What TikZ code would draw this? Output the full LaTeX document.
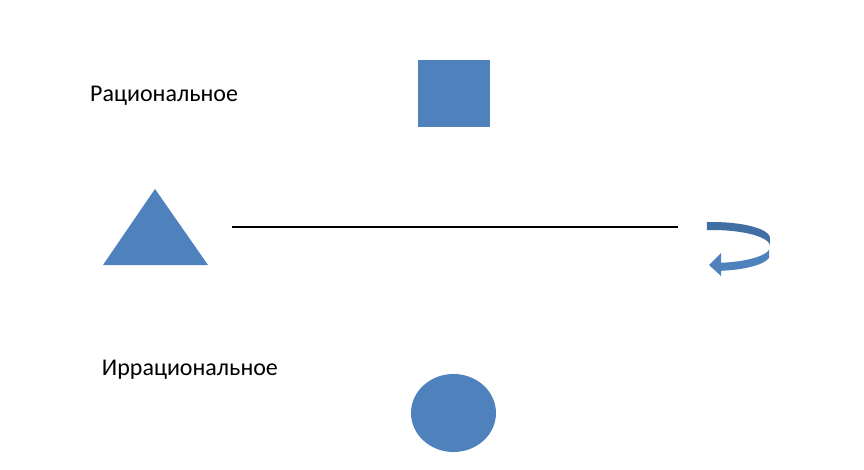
\documentclass[tikz,border=0pt]{standalone}
\usepackage{fontspec}
\setmainfont{Carlito}
\definecolor{shapeblue}{HTML}{4F81BD}
\definecolor{backblue}{HTML}{426FA3}
\begin{document}
\begin{tikzpicture}[x=1pt,y=-1pt,
  shapefill/.style={fill=shapeblue,draw=none},
  lbl/.style={anchor=base west,inner sep=0pt,font=\fontsize{24}{28}\selectfont}]
\useasboundingbox[fill=white] (0,0) rectangle (864,470);
\node[lbl] (rat) at (90,101.7) {Рациональное};
\node[lbl] (irr) at (101.7,375.7) {Иррациональное};
% square
\fill[shapefill] (418,60) rectangle (490,127);
% triangle
\fill[shapefill] (155,189) -- (208,265) -- (103,265) -- cycle;
% circle
\fill[shapefill] (453.5,413) ellipse[x radius=42.5pt,y radius=39pt];
% line
\coordinate (la) at (232,227);
\coordinate (lb) at (678,227);
\draw[line width=2pt] (la) -- (lb);
% curved arrow: back band
\fill[backblue] (712,238) ++(95:58pt and 16pt) arc[start angle=95,end angle=-4,x radius=58pt,y radius=16pt]
  -- ++(0,8) arc[start angle=-4,end angle=95,x radius=58pt,y radius=16pt] -- cycle;
% front band with arrowhead
\fill[shapeblue] (712,247) ++(-10:58pt and 16pt) arc[start angle=-10,end angle=-81,x radius=58pt,y radius=16pt]
  -- (721,253) -- (709,265) -- (721,276) -- (721,270.8)
  arc[start angle=-81,end angle=-10,x radius=58pt,y radius=16pt] -- cycle;
\end{tikzpicture}
\end{document}
